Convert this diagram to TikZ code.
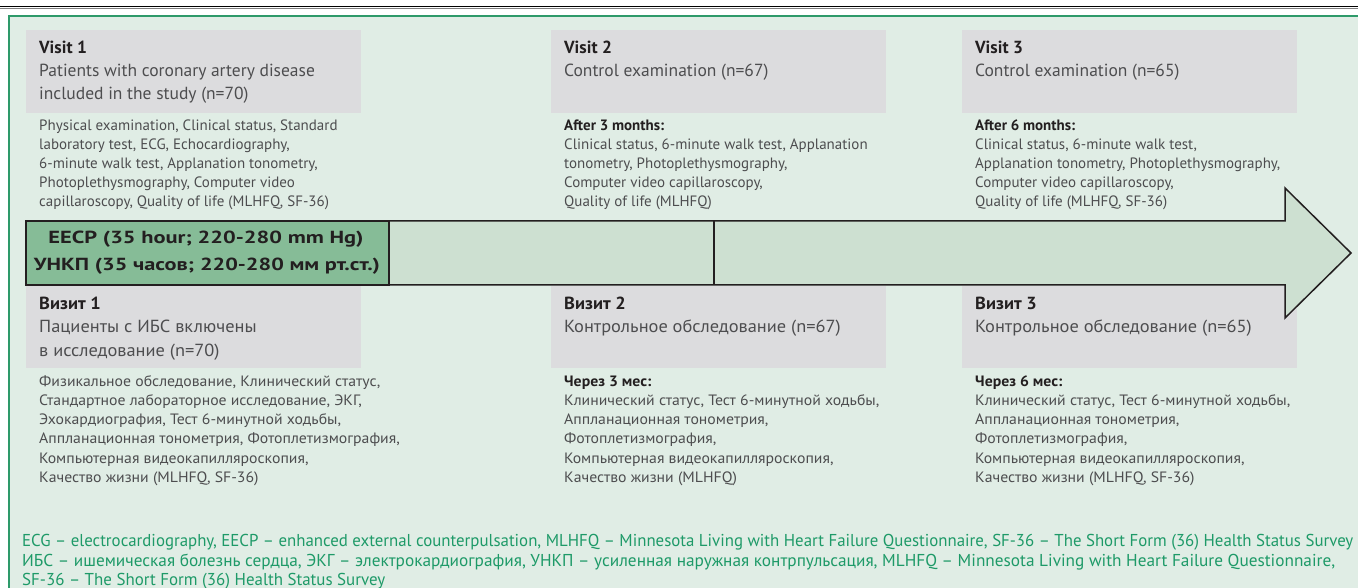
\documentclass[tikz,border=0pt]{standalone}
\usepackage{fontspec}
\usepackage{graphicx}
\setmainfont{PT Sans}
\newfontfamily\rufont{PT Sans}[FakeStretch=1.05]
\definecolor{framefill}{HTML}{E0EDE5}
\definecolor{frameline}{HTML}{2E9A6A}
\definecolor{boxgray}{HTML}{DCDCDE}
\definecolor{barfill}{HTML}{CDE0D1}
\definecolor{eecpfill}{HTML}{86BC97}
\definecolor{notetxt}{HTML}{1E9A68}
\definecolor{bodytxt}{HTML}{4D4D4F}
\definecolor{headtxt}{HTML}{231F20}
\definecolor{outline}{HTML}{231F20}
\newcommand{\hd}[1]{\textbf{\textcolor{headtxt}{#1}}}
\begin{document}
\begin{tikzpicture}[x=1pt,y=-1pt,
  graybox/.style={fill=boxgray,draw=none},
  headblock/.style={anchor=north west,inner sep=0pt,align=left,text=bodytxt,font=\fontsize{17.5}{22.8}\selectfont},
  smallblock/.style={anchor=north west,inner sep=0pt,align=left,text=bodytxt,font=\fontsize{15}{19.2}\selectfont},
  ruhead/.style={headblock,font=\rufont\fontsize{17.5}{23.5}\selectfont},
  rusmall/.style={smallblock,font=\rufont\fontsize{15}{19.2}\selectfont},
  bartext/.style={anchor=base,inner sep=0pt,text=headtxt,font=\fontsize{17.5}{21}\selectfont\bfseries},
  note/.style={anchor=base west,inner sep=0pt,text=notetxt,font=\fontsize{17.2}{19}\selectfont},
  barline/.style={draw=outline,line width=1.5pt}]
\useasboundingbox (0,0) rectangle (1358,588);
% top rule
\draw[line width=1.8pt,black] (0,6.5) -- (1358,6.5);
\draw[line width=0.7pt,gray] (0,8.8) -- (1358,8.8);
% frame
\draw[fill=framefill,draw=frameline,line width=2pt] (9,16.5) rectangle (1380,620);
% gray boxes
\fill[graybox] (26,30) rectangle (361,112.7);
\fill[graybox] (551,30) rectangle (886,112.7);
\fill[graybox] (962,30) rectangle (1297,112.7);
\fill[graybox] (26,286) rectangle (361,368);
\fill[graybox] (551,286) rectangle (886,368);
\fill[graybox] (962,286) rectangle (1297,368);
% arrow
\coordinate (a1) at (26,221);
\coordinate (a2) at (1285,221);
\coordinate (a3) at (1285,188);
\coordinate (tip) at (1351,253);
\coordinate (a5) at (1285,318);
\coordinate (a6) at (1285,285);
\coordinate (a7) at (26,285);
\draw[barline,fill=barfill,line join=miter] (a1) -- (a2) -- (a3) -- (tip) -- (a5) -- (a6) -- (a7) -- cycle;
\draw[barline,fill=eecpfill] (26,221) rectangle (389,285);
\coordinate (m1) at (714,221);
\coordinate (m2) at (714,285);
\draw[barline] (m1) -- (m2);
\node[bartext] (eecp1) at (206,243.5) {\resizebox{315pt}{\height}{EECP (35 hour; 220-280 mm Hg)}};
\node[bartext] (eecp2) at (207,271) {\resizebox{346pt}{\height}{УНКП (35 часов; 220-280 мм рт.ст.)}};
% English texts
\node[headblock] (v1h) at (39,39.3) {\rule{0pt}{14pt}\hd{Visit 1}\\Patients with coronary artery disease\\included in the study (n=70)};
\node[smallblock] (v1s) at (39,118) {\rule{0pt}{12pt}Physical examination, Clinical status, Standard\\laboratory test, ECG, Echocardiography,\\6-minute walk test, Applanation tonometry,\\Photoplethysmography, Computer video\\capillaroscopy, Quality of life (MLHFQ, SF-36)};
\node[headblock] (v2h) at (564,39.3) {\rule{0pt}{14pt}\hd{Visit 2}\\Control examination (n=67)};
\node[smallblock] (v2s) at (564,118) {\rule{0pt}{12pt}\hd{After 3 months:}\\Clinical status, 6-minute walk test, Applanation\\tonometry, Photoplethysmography,\\Computer video capillaroscopy,\\Quality of life (MLHFQ)};
\node[headblock] (v3h) at (975,39.3) {\rule{0pt}{14pt}\hd{Visit 3}\\Control examination (n=65)};
\node[smallblock] (v3s) at (975,118) {\rule{0pt}{12pt}\hd{After 6 months:}\\Clinical status, 6-minute walk test,\\Applanation tonometry, Photoplethysmography,\\Computer video capillaroscopy,\\Quality of life (MLHFQ, SF-36)};
% Russian texts
\node[ruhead] (r1h) at (39,295) {\rule{0pt}{14pt}\hd{Визит 1}\\Пациенты с ИБС включены\\в исследование (n=70)};
\node[rusmall] (r1s) at (39,374) {\rule{0pt}{12pt}Физикальное обследование, Клинический статус,\\Стандартное лабораторное исследование, ЭКГ,\\Эхокардиография, Тест 6-минутной ходьбы,\\Аппланационная тонометрия, Фотоплетизмография,\\Компьютерная видеокапилляроскопия,\\Качество жизни (MLHFQ, SF-36)};
\node[ruhead] (r2h) at (564,295) {\rule{0pt}{14pt}\hd{Визит 2}\\Контрольное обследование (n=67)};
\node[rusmall] (r2s) at (564,374) {\rule{0pt}{12pt}\hd{Через 3 мес:}\\Клинический статус, Тест 6-минутной ходьбы,\\Аппланационная тонометрия,\\Фотоплетизмография,\\Компьютерная видеокапилляроскопия,\\Качество жизни (MLHFQ)};
\node[ruhead] (r3h) at (975,295) {\rule{0pt}{14pt}\hd{Визит 3}\\Контрольное обследование (n=65)};
\node[rusmall] (r3s) at (975,374) {\rule{0pt}{12pt}\hd{Через 6 мес:}\\Клинический статус, Тест 6-минутной ходьбы,\\Аппланационная тонометрия,\\Фотоплетизмография,\\Компьютерная видеокапилляроскопия,\\Качество жизни (MLHFQ, SF-36)};
% footnotes
\node[note] (n1) at (22,546) {\resizebox{1331pt}{\height}{ECG – electrocardiography, EECP – enhanced external counterpulsation, MLHFQ – Minnesota Living with Heart Failure Questionnaire, SF-36 – The Short Form (36) Health Status Survey}};
\node[note] (n2) at (22,566) {\resizebox{1313pt}{\height}{ИБС – ишемическая болезнь сердца, ЭКГ – электрокардиография, УНКП – усиленная наружная контрпульсация, MLHFQ – Minnesota Living with Heart Failure Questionnaire,}};
\node[note] (n3) at (22,585.5) {\resizebox{363pt}{\height}{SF-36 – The Short Form (36) Health Status Survey}};
\end{tikzpicture}
\end{document}
